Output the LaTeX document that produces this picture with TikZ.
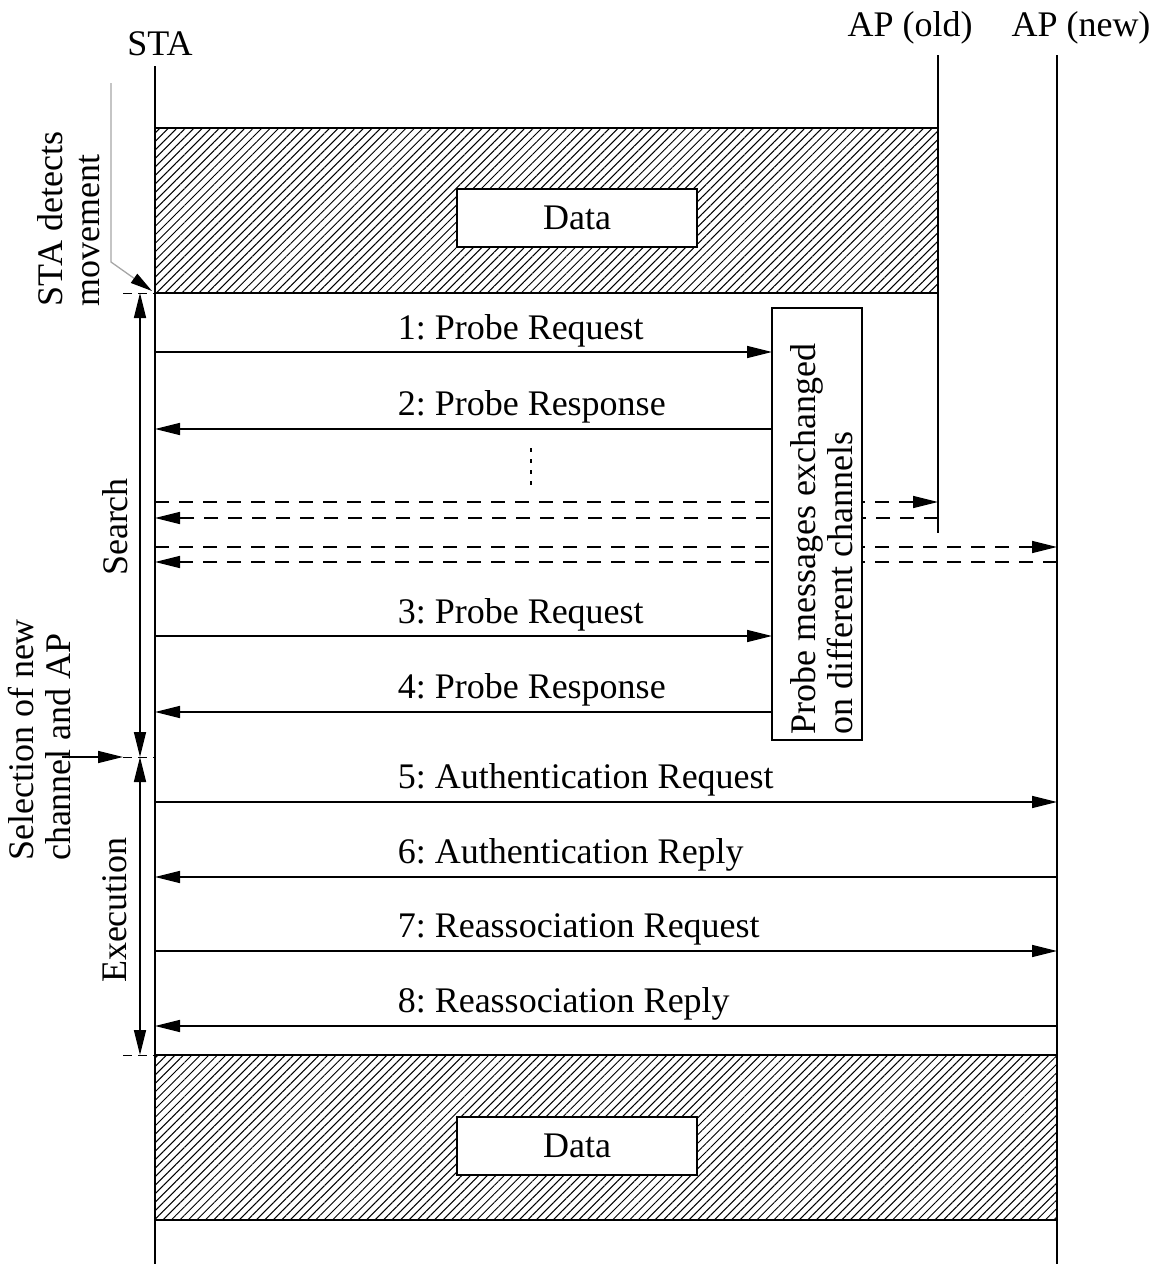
\documentclass[tikz,border=0pt]{standalone}
\usepackage{fontspec}
\setmainfont{Liberation Serif}
\frenchspacing
\usetikzlibrary{arrows.meta,patterns.meta}
\begin{document}
\begin{tikzpicture}[x=1pt,y=-1pt,line width=1.5pt,
  every node/.style={font=\fontsize{36}{37}\selectfont},
  tip/.tip={Triangle[length=25pt,width=12pt]},
  msg/.style={-tip},
  dmsg/.style={-tip, dash pattern=on 14pt off 10pt},
  lbl/.style={anchor=base west, inner sep=0pt},
  hatchbox/.style={draw, pattern={Lines[angle=45,distance=6pt,line width=1pt]}},
  databox/.style={draw, fill=white, minimum width=240pt, minimum height=58pt, inner sep=0pt},
  rotlbl/.style={rotate=90, align=left, inner sep=0pt},
  tick/.style={line width=1pt, dash pattern=on 9pt off 6pt}]
\useasboundingbox (0,0) rectangle (1157,1264);

% lifeline heads
\node (sta) at (160,44) {STA};
\node (apold) at (910,28) {AP (old)};
\node (apnew) at (1081,28) {AP (new)};

% lifelines
\coordinate (staTop) at (155,66);
\coordinate (staBot) at (155,1264);
\coordinate (oldTop) at (938,55);
\coordinate (oldBot) at (938,533);
\coordinate (newTop) at (1057,55);
\coordinate (newBot) at (1057,1264);
\draw (staTop) -- (staBot);
\draw (oldTop) -- (oldBot);
\draw (newTop) -- (newBot);

% data phases
\draw[hatchbox] (155,128) rectangle (938,293);
\node[databox] (dataA) at (577,218) {Data};
\draw[hatchbox] (155,1055) rectangle (1057,1220);
\node[databox] (dataB) at (577,1146) {Data};

% probe messages
\coordinate (p1a) at (155,352);  \coordinate (p1b) at (772,352);
\coordinate (p2a) at (772,429);  \coordinate (p2b) at (155,429);
\coordinate (p3a) at (155,636);  \coordinate (p3b) at (772,636);
\coordinate (p4a) at (772,712);  \coordinate (p4b) at (155,712);
\draw[msg] (p1a) -- (p1b);
\draw[msg] (p2a) -- (p2b);
\draw[msg] (p3a) -- (p3b);
\draw[msg] (p4a) -- (p4b);
\node[lbl] (l1) at (397,339) {1: Probe Request};
\node[lbl] (l2) at (397,415) {2: Probe Response};
\node[lbl] (l3) at (397,623) {3: Probe Request};
\node[lbl] (l4) at (397,698) {4: Probe Response};

% continuation mark
\coordinate (dotA) at (531,448);
\coordinate (dotB) at (531,490);
\draw[line width=1.3pt, dash pattern=on 4pt off 7pt] (dotA) -- (dotB);

% probes on other channels
\coordinate (q1a) at (155,502);  \coordinate (q1b) at (938,502);
\coordinate (q2a) at (938,518);  \coordinate (q2b) at (155,518);
\coordinate (q3a) at (155,547);  \coordinate (q3b) at (1057,547);
\coordinate (q4a) at (1057,562); \coordinate (q4b) at (155,562);
\draw[dmsg] (q1a) -- (q1b);
\draw[dmsg] (q2a) -- (q2b);
\draw[dmsg] (q3a) -- (q3b);
\draw[dmsg] (q4a) -- (q4b);

% channel-scan box
\coordinate (pbA) at (772,308);
\coordinate (pbB) at (862,740);
\draw[fill=white] (pbA) rectangle (pbB);
\node[rotlbl] (probetxt) at (822,539) {Probe messages exchanged\\on different channels};

% execution messages
\coordinate (e5a) at (155,802);  \coordinate (e5b) at (1057,802);
\coordinate (e6a) at (1057,877); \coordinate (e6b) at (155,877);
\coordinate (e7a) at (155,951);  \coordinate (e7b) at (1057,951);
\coordinate (e8a) at (1057,1026);\coordinate (e8b) at (155,1026);
\draw[msg] (e5a) -- (e5b);
\draw[msg] (e6a) -- (e6b);
\draw[msg] (e7a) -- (e7b);
\draw[msg] (e8a) -- (e8b);
\node[lbl] (l5) at (397,788) {5: Authentication Request};
\node[lbl] (l6) at (397,863) {6: Authentication Reply};
\node[lbl] (l7) at (397,937) {7: Reassociation Request};
\node[lbl] (l8) at (397,1012) {8: Reassociation Reply};

% phase extents
\coordinate (sTop) at (140,293);
\coordinate (sMid) at (140,757);
\coordinate (sBot) at (140,1055);
\draw[tip-tip] (sTop) -- (sMid);
\draw[tip-tip] (sMid) -- (sBot);
\coordinate (t1a) at (123,293);  \coordinate (t1b) at (155,293);
\coordinate (t2a) at (123,757);  \coordinate (t2b) at (155,757);
\coordinate (t3a) at (123,1055); \coordinate (t3b) at (155,1055);
\draw[tick] (t1a) -- (t1b);
\draw[tick] (t2a) -- (t2b);
\draw[tick] (t3a) -- (t3b);
\node[rotlbl] (search) at (115,527) {Search};
\node[rotlbl] (exec) at (115,910) {Execution};

% event annotations
\node[rotlbl] (detect) at (69,219) {STA detects\\movement};
\coordinate (dA) at (111,83);
\coordinate (dB) at (111,262);
\coordinate (dC) at (152,291);
\draw[gray!70, line width=1.3pt, -{Triangle[black,length=22pt,width=11pt]}] (dA) -- (dB) -- (dC);

\node[rotlbl] (select) at (40,740) {Selection of new\\channel and AP};
\coordinate (sel) at (62,757);
\draw[msg] (sel) -- (t2a);
\end{tikzpicture}
\end{document}
